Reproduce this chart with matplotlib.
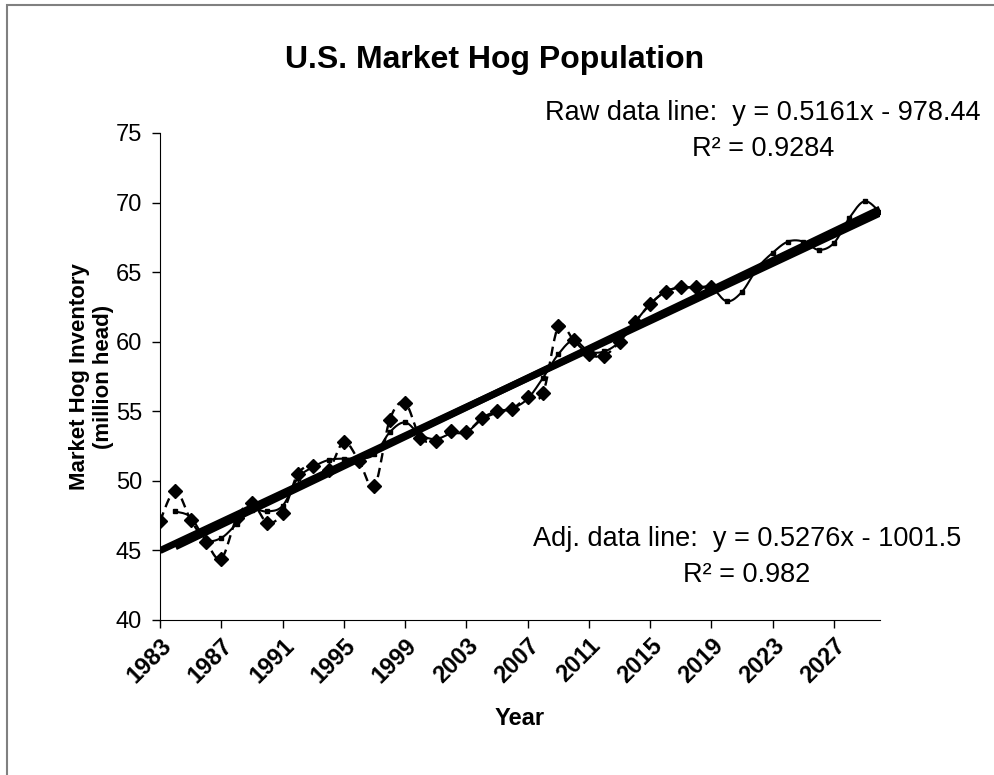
import matplotlib
matplotlib.use('Agg')
import matplotlib.pyplot as plt
import numpy as np
from matplotlib.patches import Rectangle

plt.rcParams['font.family'] = ['Liberation Sans', 'DejaVu Sans']

# raw inventory, 1983-2019 (million head)
raw_years = list(range(1983, 2020))
raw_values = [47.1, 49.3, 47.2, 45.6, 44.4, 47.3, 48.4, 47.0, 47.7, 50.5,
              51.1, 50.8, 52.8, 51.4, 49.6, 54.4, 55.6, 53.1, 52.9, 53.6,
              53.5, 54.5, 55.0, 55.2, 56.0, 56.3, 61.1, 60.1, 59.1, 59.0,
              60.0, 61.4, 62.7, 63.6, 63.9, 63.9, 63.9]

# adjusted inventory incl. projection, 1984-2030
adj_years = list(range(1984, 2031))
adj_values = [47.8, 47.4, 45.8, 45.9, 46.9, 47.9, 47.8, 48.2, 50.2, 51.0,
              51.5, 51.6, 51.6, 51.9, 53.5, 54.2, 53.3, 53.0, 53.4, 53.5,
              54.4, 54.9, 55.2, 55.9, 57.4, 59.1, 60.1, 59.3, 59.3, 60.0,
              61.4, 62.7, 63.6, 63.9, 63.9, 63.9, 62.9, 63.6, 65.3, 66.4,
              67.2, 67.2, 66.6, 67.1, 68.9, 70.1, 69.3]

# linear trend lines as reported on the chart
raw_slope, raw_icpt = 0.5161, -978.44
adj_slope, adj_icpt = 0.5276, -1001.5
trend_end = 2030

x_ticks = list(range(1983, 2028, 4))
y_ticks = list(range(40, 76, 5))


def smooth(xs, ys, n=20):
    # excel style smoothed line (catmull-rom)
    xs = np.asarray(xs, float)
    ys = np.asarray(ys, float)
    px = np.concatenate([[xs[0]], xs, [xs[-1]]])
    py = np.concatenate([[ys[0]], ys, [ys[-1]]])
    out_x, out_y = [], []
    t = np.linspace(0, 1, n, endpoint=False)
    for i in range(1, len(px) - 2):
        for p, out in ((px, out_x), (py, out_y)):
            p0, p1, p2, p3 = p[i - 1], p[i], p[i + 1], p[i + 2]
            c1 = p1 + (p2 - p0) / 6
            c2 = p2 - (p3 - p1) / 6
            out.extend((1 - t) ** 3 * p1 + 3 * (1 - t) ** 2 * t * c1
                       + 3 * (1 - t) * t ** 2 * c2 + t ** 3 * p2)
    out_x.append(xs[-1])
    out_y.append(ys[-1])
    return out_x, out_y


fig = plt.figure(figsize=(9.95, 7.75), dpi=100)
ax = fig.add_axes([160 / 995, 1 - 620 / 775, 720 / 995, 487 / 775])

# trend lines
for yrs, a, b in ((raw_years, raw_slope, raw_icpt), (adj_years, adj_slope, adj_icpt)):
    tx = np.array([yrs[0], trend_end])
    ax.plot(tx, a * tx + b, color='black', lw=5.0, solid_capstyle='butt', zorder=2)

sx, sy = smooth(raw_years, raw_values)
ax.plot(sx, sy, color='black', lw=1.7, ls=(0, (4, 2.4)), zorder=3)
ax.plot(raw_years, raw_values, ls='none', marker='D', ms=6.8, color='black', zorder=4)

sx, sy = smooth(adj_years, adj_values)
ax.plot(sx, sy, color='black', lw=1.5, zorder=3)
ax.plot(adj_years, adj_values, ls='none', marker='s', ms=2.8, color='black', zorder=4)

ax.set_xlim(1983, 2030)
ax.set_ylim(40, 75)
ax.set_xticks(x_ticks)
ax.set_xticklabels([str(y) for y in x_ticks], rotation=45, ha='right',
                   rotation_mode='anchor', fontsize=17, fontweight='bold')
ax.set_yticks(y_ticks)
ax.set_yticklabels([str(y) for y in y_ticks], fontsize=17)
ax.tick_params(direction='out', length=6, width=1, color='black')
ax.tick_params(axis='y', pad=7)
ax.tick_params(axis='x', pad=4)
ax.spines['top'].set_visible(False)
ax.spines['right'].set_visible(False)

ax.set_xlabel('Year', fontsize=17, fontweight='bold', labelpad=14)
ax.set_ylabel('Market Hog Inventory\n(million head)', fontsize=16,
              fontweight='bold', labelpad=1, linespacing=1.2)

fig.text(495 / 995, 1 - 60 / 775, 'U.S. Market Hog Population', ha='center',
         va='center', fontsize=23, fontweight='bold')
fig.text(763 / 995, 1 - 131 / 775,
         'Raw data line:  y = %.4fx - %.2f\nR² = 0.9284' % (raw_slope, -raw_icpt),
         ha='center', va='center', fontsize=19.5, linespacing=1.5)
fig.text(747 / 995, 1 - 557 / 775,
         'Adj. data line:  y = %.4fx - %.1f\nR² = 0.982' % (adj_slope, -adj_icpt),
         ha='center', va='center', fontsize=19.5, linespacing=1.5)

# chart area frame
fig.patches.append(Rectangle((7 / 995, -0.1), 1.2, 1.1 - 5 / 775,
                             transform=fig.transFigure, fill=False,
                             edgecolor='#808080', lw=1.5))

fig.savefig('out.png', dpi=100)
